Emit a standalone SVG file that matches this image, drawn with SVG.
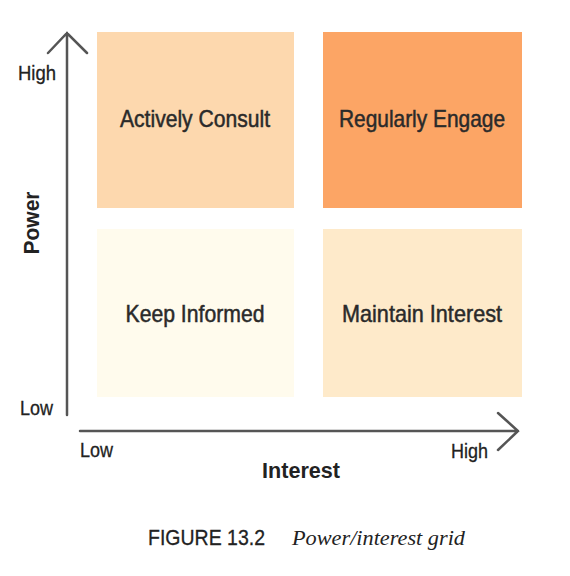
<svg xmlns="http://www.w3.org/2000/svg" width="570" height="576" viewBox="0 0 570 576">
<style>
.q{font-family:"Liberation Sans",Arial,sans-serif;font-size:24px;fill:#2a2a2a;stroke:#2a2a2a;stroke-width:0.5;text-anchor:middle}
.ax{font-family:"Liberation Sans",Arial,sans-serif;font-size:20px;fill:#222;stroke:#222;stroke-width:0.3}
.axb{font-family:"Liberation Sans",Arial,sans-serif;font-size:22px;font-weight:bold;fill:#222;text-anchor:middle}
.axis{stroke:#555;stroke-width:2.5;fill:none;stroke-linecap:round}
</style>
<rect width="570" height="576" fill="#fff"/>
<g id="actively-consult"><rect x="97" y="32" width="197" height="176" fill="#fdd8ae"/><text class="q" x="195" y="127" textLength="150" lengthAdjust="spacingAndGlyphs">Actively Consult</text></g>
<g id="regularly-engage"><rect x="323" y="32" width="199" height="176" fill="#fca565"/><text class="q" x="422" y="127" textLength="166" lengthAdjust="spacingAndGlyphs">Regularly Engage</text></g>
<g id="keep-informed"><rect x="97" y="229" width="197" height="168" fill="#fffbed"/><text class="q" x="195" y="322" textLength="139" lengthAdjust="spacingAndGlyphs">Keep Informed</text></g>
<g id="maintain-interest"><rect x="323" y="229" width="199" height="168" fill="#feeaca"/><text class="q" x="422" y="322" textLength="160" lengthAdjust="spacingAndGlyphs">Maintain Interest</text></g>
<g id="connectors">
<path class="axis" d="M67 415 V33 M48 53 L67 33 L87 53"/>
<path class="axis" d="M80 431 H518 M498 413 L518 431 L498 450"/>
</g>
<g id="labels">
<text class="ax" x="18" y="80" textLength="38" lengthAdjust="spacingAndGlyphs">High</text>
<text class="ax" x="20" y="415" textLength="33" lengthAdjust="spacingAndGlyphs">Low</text>
<text class="ax" x="80" y="457" textLength="33" lengthAdjust="spacingAndGlyphs">Low</text>
<text class="ax" x="451" y="458" textLength="37" lengthAdjust="spacingAndGlyphs">High</text>
<text class="axb" x="301" y="478" textLength="78" lengthAdjust="spacingAndGlyphs">Interest</text>
<text class="axb" transform="translate(39 223) rotate(-90)" x="0" y="0" textLength="63" lengthAdjust="spacingAndGlyphs">Power</text>
<text x="148" y="545" font-family="Liberation Sans,Arial,sans-serif" font-size="22" fill="#222" stroke="#222" stroke-width="0.3" textLength="117" lengthAdjust="spacingAndGlyphs">FIGURE 13.2</text>
<text x="292" y="545" font-family="Liberation Serif,Times New Roman,serif" font-size="22" font-style="italic" fill="#222" textLength="173" lengthAdjust="spacingAndGlyphs">Power/interest grid</text>
</g>
</svg>
